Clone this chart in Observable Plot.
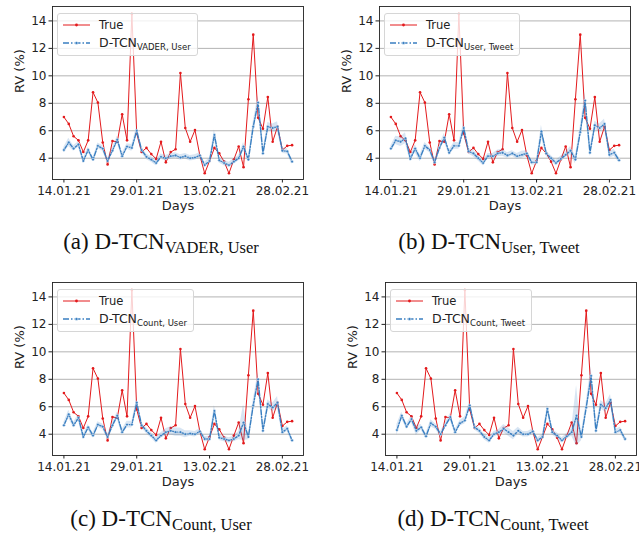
<!DOCTYPE html>
<html><head><meta charset="utf-8">
<script src="https://cdn.jsdelivr.net/npm/d3@7"></script>
<script src="https://cdn.jsdelivr.net/npm/@observablehq/plot@0.6"></script>
<style>
body{margin:0;background:#fff;}
#root{position:relative;width:639px;height:535px;overflow:hidden;font-family:"DejaVu Sans",sans-serif;color:#222;}
.panel{position:absolute;}
.panel svg{max-width:none !important;}
.legend{position:absolute;background:rgba(255,255,255,0.8);border:1px solid #d6d6d6;border-radius:3px;padding:2px 6px 3px 5px;box-sizing:border-box;}
.row{display:flex;align-items:center;height:18px;white-space:nowrap;}
.row svg{margin-right:9px;flex:none;}
.lt{font-size:11.5px;}
.lt sub{font-size:8.5px;vertical-align:-3px;}
.caption{position:absolute;width:320px;text-align:center;font-family:"Liberation Serif",serif;font-size:23px;line-height:24px;white-space:nowrap;color:#111;}
.caption sub{font-size:16.5px;vertical-align:-4px;line-height:0;}
</style></head>
<body><div id="root"></div>
<script>
const startDay = "2021-01-14";
const endDayExclusive = "2021-03-03";
const xTickLabels = ["2021-01-14", "2021-01-29", "2021-02-13", "2021-02-28"];
const yTicks = [4, 6, 8, 10, 12, 14];

const trueRV = [7.0,6.5,5.6,5.3,4.45,5.3,8.8,8.05,5.15,3.55,
  5.25,5.2,7.2,5.3,14.5,5.8,4.45,4.75,4.3,3.95,
  5.2,3.7,4.45,4.65,10.2,6.2,5.2,6.05,4.2,2.9,
  3.8,4.75,4.35,3.75,2.9,3.9,4.85,3.35,8.3,13.0,
  6.95,6.15,8.45,5.2,6.3,4.6,4.9,4.95];

const predVaderUser = [4.6,5.15,4.7,5.0,3.8,4.6,3.9,4.9,4.7,3.8,
  4.55,5.35,4.15,4.85,4.75,6.0,4.6,4.1,3.9,3.65,
  4.1,4.0,4.15,4.2,4.05,4.15,4.0,4.05,4.2,3.5,
  3.8,5.7,3.85,3.65,3.5,3.75,4.0,4.85,3.9,6.3,
  8.05,4.35,6.3,6.2,6.3,4.55,4.5,3.75];
const bandVaderUser = [0.2,0.3,0.2,0.2,0.2,0.2,0.15,0.2,0.2,0.2,
  0.2,0.25,0.2,0.2,0.25,0.3,0.2,0.2,0.2,0.2,
  0.2,0.2,0.2,0.2,0.2,0.2,0.2,0.2,0.2,0.2,
  0.2,0.35,0.2,0.2,0.2,0.2,0.2,0.3,0.2,0.35,
  0.5,0.25,0.3,0.3,0.35,0.2,0.2,0.2];

const predUserTweet = [4.7,5.3,5.2,5.45,3.95,4.7,4.0,4.9,4.6,3.7,
  4.75,5.5,4.4,4.9,4.9,6.2,4.5,4.35,4.0,3.65,
  4.15,4.15,4.35,4.4,4.2,4.35,4.15,4.25,4.35,3.7,
  3.7,5.95,4.35,4.0,3.65,3.95,4.25,4.55,3.9,5.9,
  8.2,4.4,6.4,6.2,6.5,4.25,4.4,3.85];
const bandUserTweet = [0.2,0.3,0.35,0.4,0.2,0.3,0.25,0.25,0.2,0.2,
  0.25,0.3,0.2,0.25,0.25,0.4,0.2,0.25,0.2,0.2,
  0.2,0.2,0.25,0.25,0.2,0.2,0.2,0.25,0.2,0.2,
  0.2,0.45,0.2,0.2,0.2,0.2,0.2,0.3,0.3,0.4,
  0.6,0.3,0.3,0.3,0.35,0.25,0.25,0.2];

const predCountUser = [4.65,5.45,4.65,5.2,3.8,4.5,3.9,4.7,4.55,3.8,
  4.65,5.35,4.15,4.7,4.7,6.3,4.65,4.25,3.9,3.55,
  3.9,4.15,4.25,4.15,4.15,4.0,4.05,4.0,4.2,3.65,
  3.65,5.7,3.75,3.65,3.55,3.65,3.9,4.85,3.8,6.1,
  8.0,4.25,6.2,5.95,6.3,4.15,4.4,3.55];
const bandCountUser = [0.2,0.3,0.2,0.25,0.2,0.2,0.2,0.2,0.2,0.2,
  0.2,0.25,0.2,0.25,0.25,0.3,0.2,0.2,0.2,0.2,
  0.2,0.25,0.3,0.3,0.3,0.25,0.2,0.2,0.2,0.2,
  0.2,0.4,0.2,0.2,0.2,0.2,0.3,1.3,0.2,0.4,
  0.5,0.25,0.3,0.3,0.45,0.2,0.2,0.2];

const predCountTweet = [4.3,5.35,4.55,5.1,4.25,4.5,3.85,4.8,4.55,4.0,
  4.65,5.25,4.15,4.8,5.0,6.1,4.5,4.25,3.8,3.55,
  4.0,4.15,4.4,4.15,3.9,4.25,4.0,4.0,4.2,3.55,
  3.8,5.85,4.15,3.9,3.55,3.85,4.15,5.35,3.8,5.95,
  8.25,4.25,6.15,5.9,6.5,4.15,4.3,3.65];
const bandCountTweet = [0.4,0.25,0.2,0.25,0.35,0.2,0.2,0.25,0.2,0.2,
  0.2,0.25,0.2,0.2,0.25,0.3,0.2,0.2,0.2,0.2,
  0.2,0.2,0.3,0.3,0.3,0.25,0.2,0.2,0.2,0.2,
  0.2,0.3,0.2,0.2,0.2,0.2,0.3,2.2,0.3,0.4,
  0.7,0.3,0.3,0.3,0.4,0.2,0.2,0.2];

const panelLetters = ["a", "b", "c", "d"];
const modelSubs = ["VADER, User", "User, Tweet", "Count, User", "Count, Tweet"];

const RED = "#e31a1c", BLUE = "#3a7fc1";
const days = d3.utcDays(new Date(startDay), new Date(endDayExclusive));
const DAY = 864e5;
const t0 = new Date(startDay).getTime();
const xDomain = [new Date(t0 - 2.35 * DAY), new Date(t0 + 49.35 * DAY)];
const xTicks = xTickLabels.map(s => new Date(s));
const fmt = d3.utcFormat("%d.%m.%y");

const preds = [predVaderUser, predUserTweet, predCountUser, predCountTweet];
const bands = [bandVaderUser, bandUserTweet, bandCountUser, bandCountTweet];
const layout = [
  {left: 7, top: 0, capX: 161, capY: 230},
  {left: 334, top: 0, capX: 489, capY: 230},
  {left: 7, top: 276, capX: 161, capY: 507},
  {left: 340, top: 276, capX: 493, capY: 507}
];
const ML = 45, MT = 6, MR = 30;

const root = document.getElementById("root");

preds.forEach((pred, i) => {
  const data = days.map((d, k) => ({
    date: d, t: trueRV[k], p: pred[k], lo: pred[k] - bands[i][k], hi: pred[k] + bands[i][k]
  }));
  const chart = Plot.plot({
    width: ML + 251 + MR, height: 220,
    marginLeft: ML, marginRight: MR, marginTop: MT, marginBottom: 41,
    style: {fontFamily: "DejaVu Sans, sans-serif", fontSize: "12px", color: "#222", background: "transparent", overflow: "visible", maxWidth: "none"},
    x: {type: "utc", domain: xDomain},
    y: {domain: [2.45, 15.05]},
    marks: [
      Plot.gridY(yTicks, {stroke: "#b3b3b3", strokeOpacity: 1, strokeWidth: 1}),
      Plot.axisX(xTicks, {tickFormat: fmt, tickSize: 3.5, tickPadding: 3, fontSize: 12, label: null, stroke: "#222"}),
      Plot.axisY(yTicks, {tickSize: 3.5, tickPadding: 2.5, fontSize: 12, label: null, stroke: "#222"}),
      Plot.text(["Days"], {frameAnchor: "bottom", dy: 30, text: d => d, fontSize: 13, fill: "#222"}),
      Plot.text(["RV (%)"], {frameAnchor: "left", dx: -33, rotate: -90, text: d => d, fontSize: 13, fill: "#222"}),
      Plot.lineY(data, {x: "date", y: "t", stroke: RED, strokeWidth: 1}),
      Plot.dot(data, {x: "date", y: "t", r: 1.3, fill: RED}),
      Plot.areaY(data, {x: "date", y1: "lo", y2: "hi", fill: BLUE, fillOpacity: 0.2}),
      Plot.lineY(data, {x: "date", y: "p", stroke: BLUE, strokeWidth: 1.4, strokeDasharray: "5,1.6,1.4,1.6"}),
      Plot.dot(data, {x: "date", y: "p", r: 1.4, fill: BLUE, stroke: "#fff", strokeWidth: 0.5}),
      Plot.frame({stroke: "#222", strokeWidth: 0.9})
    ]
  });
  const wrap = document.createElement("div");
  wrap.className = "panel";
  wrap.style.left = layout[i].left + "px";
  wrap.style.top = layout[i].top + "px";
  wrap.appendChild(chart);
  root.appendChild(wrap);

  const lg = document.createElement("div");
  lg.className = "legend";
  lg.style.left = (layout[i].left + ML + 5) + "px";
  lg.style.top = (layout[i].top + MT + 7) + "px";
  lg.innerHTML =
    `<div class="row"><svg width="27" height="8"><line x1="0" y1="4" x2="27" y2="4" stroke="${RED}" stroke-width="1"/><circle cx="13.5" cy="4" r="1.4" fill="${RED}"/></svg><span class="lt">True</span></div>` +
    `<div class="row"><svg width="27" height="8"><line x1="0" y1="4" x2="27" y2="4" stroke="${BLUE}" stroke-width="1.4" stroke-dasharray="6,2,1.5,2"/><circle cx="13.5" cy="4" r="1.5" fill="${BLUE}" stroke="#fff" stroke-width="0.5"/></svg><span class="lt" style="font-size:12.5px">D-TCN<sub>${modelSubs[i]}</sub></span></div>`;
  root.appendChild(lg);

  const cap = document.createElement("div");
  cap.className = "caption";
  cap.style.left = (layout[i].capX - 160) + "px";
  cap.style.top = layout[i].capY + "px";
  cap.innerHTML = `(${panelLetters[i]}) D-TCN<sub>${modelSubs[i]}</sub>`;
  root.appendChild(cap);
});
</script>
</body></html>
